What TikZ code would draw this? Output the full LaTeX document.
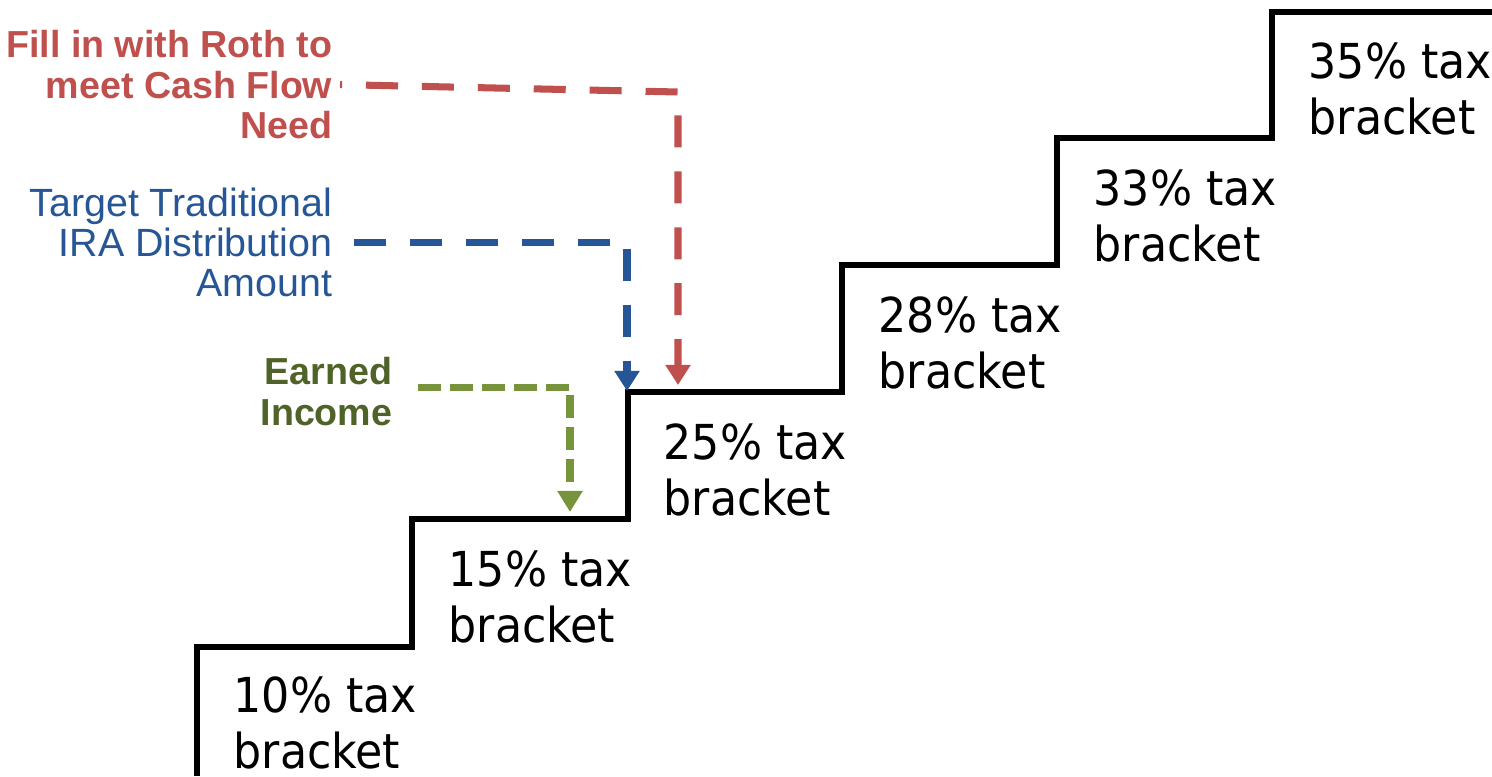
\documentclass[tikz,border=0pt]{standalone}
\usepackage{fontspec}
\setmainfont{DejaVu Sans}
\newfontfamily\notefont{Liberation Sans}
\newfontfamily\stepfont[FakeStretch=0.92]{DejaVu Sans}
\usepackage{tikz}
\usetikzlibrary{arrows.meta}
\definecolor{rothred}{RGB}{192,80,77}
\definecolor{tradblue}{RGB}{38,86,150}
\definecolor{earngreen}{RGB}{79,98,40}
\definecolor{earnline}{RGB}{119,147,60}
\tikzstyle{bracket} = [anchor=north west, inner sep=0pt, align=left, font=\stepfont\fontsize{13.7}{15.9}\selectfont]
\tikzstyle{note} = [anchor=north east, inner sep=0pt, align=right, font=\notefont\fontsize{11.2}{11.4}\selectfont]
\tikzstyle{boldnote} = [note, font=\notefont\bfseries\fontsize{10.7}{11.4}\selectfont]
\tikzstyle{stair} = [line width=1.85pt, line join=miter]
\tikzstyle{arrow} = [line width=2pt, dash pattern=on 9.1pt off 6.8pt, -{Triangle[length=0.2cm,width=0.24cm]}]
\tikzstyle{shortarrow} = [line width=2pt, dash pattern=on 6.5pt off 2.6pt, -{Triangle[length=0.21cm,width=0.24cm]}]

\begin{document}
\begin{tikzpicture}[x=0.01cm, y=-0.01cm]
\useasboundingbox (0,0) rectangle (1492,776);
% staircase
\draw [stair] (197,776) |- (412,647) |- (628,519) |- (842,392) |- (1057,265) |- (1272,138) |- (1492,12);
% brackets
\node (b10) [bracket] at (233,676) {10\% tax\\bracket};
\node (b15) [bracket] at (448,550) {15\% tax\\bracket};
\node (b25) [bracket] at (663,423) {25\% tax\\bracket};
\node (b28) [bracket] at (878,296) {28\% tax\\bracket};
\node (b33) [bracket] at (1093,169) {33\% tax\\bracket};
\node (b35) [bracket] at (1308,42) {35\% tax\\bracket};
% notes on the left
\node (roth) [boldnote, text=rothred] at (333,30) {Fill in with Roth to\\meet Cash Flow\\Need};
\node (trad) [note, text=tradblue] at (333,187) {Target Traditional\\IRA Distribution\\Amount};
\node (earned) [boldnote, text=earngreen] at (393,357) {Earned\\Income};
\coordinate (rothbend) at (678,92);
\coordinate (rothtip) at (678,385);
\coordinate (tradtip) at (627,391);
\coordinate (earntip) at (570,512);
\draw [arrow, rothred, dash phase=8.5pt] ([xshift=0.07cm]roth.east) -- (rothbend) -- (rothtip);
\draw [arrow, tradblue] ([xshift=0.21cm]trad.east) -| (tradtip);
\draw [shortarrow, earnline] ([xshift=0.25cm,yshift=0.045cm]earned.east) -| (earntip);
\end{tikzpicture}
\end{document}
